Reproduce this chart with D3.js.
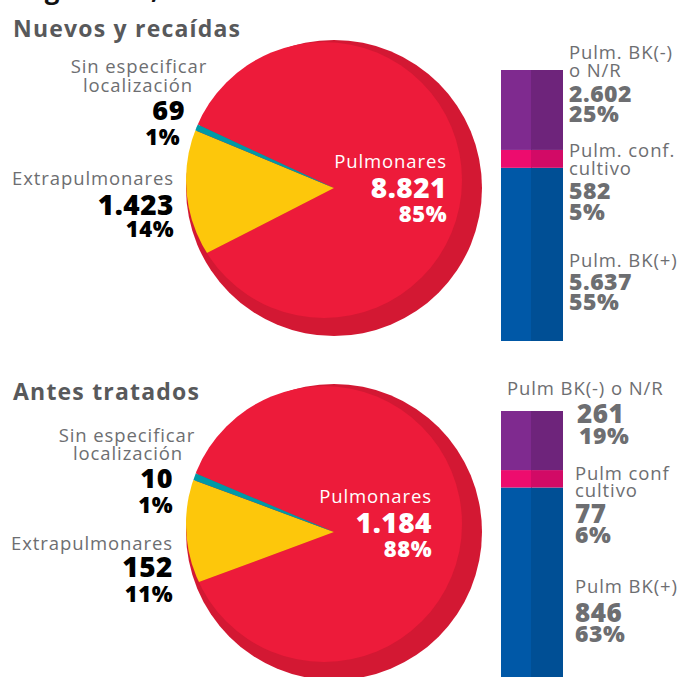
<!DOCTYPE html>
<html><head><meta charset="utf-8">
<script src="https://cdn.jsdelivr.net/npm/d3@7"></script>
<style>
html,body{margin:0;padding:0;background:#fff;overflow:hidden}
svg{display:block}
text{font-family:"Open Sans","Noto Sans",sans-serif}
</style></head>
<body><svg id="c" width="684" height="677"></svg>
<script>
// ---- data ----
const pieCategories = ["Pulmonares", "Extrapulmonares", "Sin especificar localización"];
const nuevosPieValues = [8821, 1423, 69];
const nuevosPiePct = ["85%", "14%", "1%"];
const antesPieValues = [1184, 152, 10];
const antesPiePct = ["88%", "11%", "1%"];

const nuevosBarCategories = ["Pulm. BK(+)", "Pulm. conf. cultivo", "Pulm. BK(-) o N/R"];
const nuevosBarValues = [5637, 582, 2602];
const nuevosBarPct = ["55%", "5%", "25%"];
const antesBarCategories = ["Pulm BK(+)", "Pulm conf cultivo", "Pulm BK(-) o N/R"];
const antesBarValues = [846, 77, 261];
const antesBarPct = ["63%", "6%", "19%"];

const titles = ["Nuevos y recaídas", "Antes tratados"];

// ---- styling ----
const pieColors = ["#ed1b3a", "#fdc70b", "#0099a6"];
const pieShadow = "#d31833";
const barLight = ["#0058a7", "#ed0c6e", "#7f2a8f"];
const barDark  = ["#004f95", "#d20a66", "#6e247b"];
const grey = "#6d6e71";

const svg = d3.select("#c");
const loc = d3.formatLocale({decimal: ",", thousands: ".", grouping: [3], currency: ["$", ""]});
const fmt = loc.format(",");

// cut top heading
svg.append("text").attr("x", 13).attr("y", -1).attr("font-size", 26).attr("font-weight", 700)
  .attr("fill", "#111").attr("letter-spacing", 1).text("Argentina, 2019");

function txt(x, y, s, size, weight, fill, anchor, ls) {
  const t = svg.append("text").attr("x", x).attr("y", y).attr("font-size", size)
    .attr("font-weight", weight).attr("fill", fill).attr("text-anchor", anchor || "start").text(s);
  if (ls) t.attr("letter-spacing", ls);
  return t;
}
const lab = (x, y, s, fill, anchor) => txt(x, y, s, 18.5, 400, fill || grey, anchor, 0.9);
const big = (x, y, s, size, fill, anchor) => txt(x, y, s, size, 800, fill, anchor, 0.5);

function drawPie(cfg) {
  const {cx, cy, values, start, id} = cfg;
  svg.append("circle").attr("cx", cx).attr("cy", cy).attr("r", 148).attr("fill", pieShadow);
  svg.append("clipPath").attr("id", id).append("circle")
    .attr("cx", cx - 10).attr("cy", cy - 8).attr("r", 138);
  const pie = d3.pie().sort(null).startAngle(start).endAngle(start + 2 * Math.PI);
  const arc = d3.arc().innerRadius(0).outerRadius(200);
  svg.append("g").attr("clip-path", `url(#${id})`)
    .append("g").attr("transform", `translate(${cx},${cy})`)
    .selectAll("path").data(pie(values)).join("path")
    .attr("d", arc).attr("fill", (d, i) => pieColors[i]);
}

function drawBar(cfg) {
  const {x0, top, h, values} = cfg;
  const total = d3.sum(values);
  const y = d3.scaleLinear().domain([0, total]).range([top + h, top]);
  const xs = d3.scaleBand().domain([0, 1]).range([x0, x0 + 62]).padding(0);
  let cum = 0;
  const segs = values.map((v, i) => { const s = {i, y0: cum, y1: cum + v}; cum += v; return s; });
  const g = svg.append("g");
  [0, 1].forEach(k => {
    g.selectAll(null).data(segs).join("rect")
      .attr("x", xs(k) + (k ? -1 : 0)).attr("width", xs.bandwidth() + (k ? 1 : 0))
      .attr("y", d => y(d.y1)).attr("height", d => y(d.y0) - y(d.y1))
      .attr("fill", d => (k ? barDark : barLight)[d.i]);
  });
}

// ---------- Section 1 ----------
txt(13, 37, titles[0], 23, 700, "#58595b", "start", 1.2);
drawPie({cx: 334, cy: 188, values: nuevosPieValues, start: -65 * Math.PI / 180, id: "clipA"});
drawBar({x0: 501, top: 70, h: 271, values: nuevosBarValues});

lab(139, 73, "Sin especificar", grey, "middle");
lab(138, 92, "localización", grey, "middle");
big(185, 120, fmt(nuevosPieValues[2]), 27, "#000", "end");
big(180, 145, nuevosPiePct[2], 22, "#000", "end");
lab(174, 185, pieCategories[1], grey, "end");
big(174, 215, fmt(nuevosPieValues[1]), 28, "#000", "end");
big(174, 237, nuevosPiePct[1], 22, "#000", "end");

lab(447, 168, pieCategories[0], "#fff", "end");
big(447, 198, fmt(nuevosPieValues[0]), 28, "#fff", "end");
big(447, 222, nuevosPiePct[0], 22, "#fff", "end");

const bx = 569;
lab(bx, 59, "Pulm. BK(-)");
lab(bx, 77, "o N/R");
big(bx, 102, fmt(nuevosBarValues[2]), 23, grey);
big(bx, 122, nuevosBarPct[2], 23, grey);
lab(bx, 157, "Pulm. conf.");
lab(bx, 175, "cultivo");
big(bx, 199, fmt(nuevosBarValues[1]), 23, grey);
big(bx, 220, nuevosBarPct[1], 23, grey);
lab(bx, 267, nuevosBarCategories[0]);
big(bx, 290, fmt(nuevosBarValues[0]), 23, grey);
big(bx, 310, nuevosBarPct[0], 23, grey);

// ---------- Section 2 ----------
txt(13, 400, titles[1], 23, 700, "#58595b", "start", 1.2);
drawPie({cx: 334, cy: 532, values: antesPieValues, start: -67 * Math.PI / 180, id: "clipB"});
drawBar({x0: 501, top: 411, h: 268, values: antesBarValues});

lab(127, 442, "Sin especificar", grey, "middle");
lab(128, 460, "localización", grey, "middle");
big(173, 488, fmt(antesPieValues[2]), 27, "#000", "end");
big(173, 513, antesPiePct[2], 22, "#000", "end");
lab(173, 550, pieCategories[1], grey, "end");
big(173, 577, fmt(antesPieValues[1]), 28, "#000", "end");
big(173, 602, antesPiePct[1], 22, "#000", "end");

lab(432, 503, pieCategories[0], "#fff", "end");
big(432, 533, fmt(antesPieValues[0]), 28, "#fff", "end");
big(432, 557, antesPiePct[0], 22, "#fff", "end");

lab(507, 395, antesBarCategories[2]);
big(577, 423, fmt(antesBarValues[2]), 26, grey);
big(579, 444, antesBarPct[2], 23, grey);
lab(575, 480, "Pulm conf");
lab(575, 497, "cultivo");
big(575, 523, fmt(antesBarValues[1]), 26, grey);
big(575, 543, antesBarPct[1], 23, grey);
lab(575, 593, antesBarCategories[0]);
big(575, 622, fmt(antesBarValues[0]), 26, grey);
big(575, 642, antesBarPct[0], 23, grey);
</script></body></html>
